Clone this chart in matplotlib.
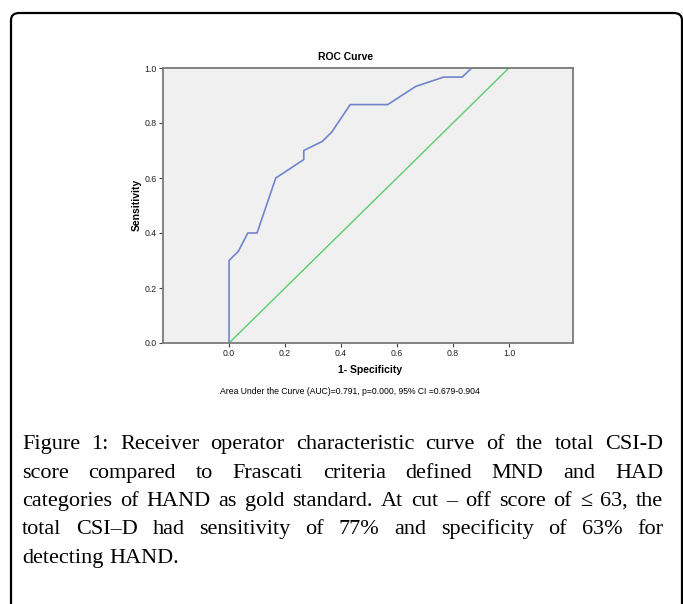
import matplotlib
matplotlib.use("Agg")
import matplotlib.pyplot as plt
from matplotlib.patches import FancyBboxPatch

# ---- data ----
fpr = [0.0, 0.0, 0.033, 0.067, 0.1, 0.167, 0.267, 0.267, 0.333, 0.367, 0.433,
       0.567, 0.667, 0.767, 0.833, 0.867, 1.0]
tpr = [0.0, 0.3, 0.333, 0.4, 0.4, 0.6, 0.667, 0.7, 0.733, 0.767, 0.867,
       0.867, 0.933, 0.967, 0.967, 1.0, 1.0]
ref_x = [0.0, 1.0]
ref_y = [0.0, 1.0]
x_ticks = [0.0, 0.2, 0.4, 0.6, 0.8, 1.0]
y_ticks = [0.0, 0.2, 0.4, 0.6, 0.8, 1.0]
title = "ROC Curve"
xlabel = "1- Specificity"
ylabel = "Sensitivity"
note = "Area Under the Curve (AUC)=0.791, p=0.000, 95% CI =0.679-0.904"
caption_lines = [
    "Figure 1: Receiver operator characteristic curve of the total CSI-D",
    "score compared to Frascati criteria defined MND and HAD",
    "categories of HAND as gold standard. At cut \u2013 off score of \u2264 63, the",
    "total CSI\u2013D had sensitivity of 77% and specificity of 63% for",
    "detecting HAND.",
]

W, H = 683, 604
fig = plt.figure(figsize=(W / 100, H / 100), dpi=100)
fig.patch.set_facecolor("white")

# outer rounded frame (clipped by the figure at right/bottom)
frame = FancyBboxPatch((11 / W, -0.2), (682 - 11) / W, (1 - 13 / H) + 0.2,
                       boxstyle="round,pad=0,rounding_size=0.012",
                       transform=fig.transFigure, fill=False,
                       edgecolor="black", linewidth=1.6)
fig.patches.append(frame)

ax = fig.add_axes([163 / W, 1 - 343 / H, (573 - 163) / W, (343 - 68) / H])
ax.set_facecolor("#f0f0f0")
ax.plot(fpr, tpr, color="#7084cc", lw=1.2)
ax.plot(ref_x, ref_y, color="#5ccc6a", lw=1.0)
ax.set_xlim(-0.236, 1.229)
ax.set_ylim(0, 1.0)
ax.set_xticks(x_ticks)
ax.set_yticks(y_ticks)
ax.set_xticklabels([f"{v:.1f}" for v in x_ticks])
ax.set_yticklabels([f"{v:.1f}" for v in y_ticks])
ax.tick_params(labelsize=6.3, length=3, width=0.8, color="#444444", pad=1.5,
               labelcolor="#222222")
for lbl in ax.get_xticklabels() + ax.get_yticklabels():
    lbl.set_family("Liberation Sans")
for s in ax.spines.values():
    s.set_color("#7a7a7a")
    s.set_linewidth(1.3)

fig.text(346 / W, 1 - 57 / H, title, ha="center", va="center",
         fontsize=7.5, fontweight="bold", family="Liberation Sans")
fig.text(370 / W, 1 - 370 / H, xlabel, ha="center", va="center",
         fontsize=7.5, fontweight="bold", family="Liberation Sans")
fig.text(137 / W, 1 - 205 / H, ylabel, ha="center", va="center", rotation=90,
         fontsize=7.5, fontweight="bold", family="Liberation Sans")
fig.text(350 / W, 1 - 392 / H, note, ha="center", va="center",
         fontsize=6.2, family="Liberation Sans")

# justified caption, one text per word on a shared integer-pixel baseline
left_px, right_px = 22, 663
y0, dy = 449, 28.5
fs = 16
fam = ["Liberation Serif", "DejaVu Serif"]
fig.canvas.draw()
renderer = fig.canvas.get_renderer()


def tw(s):
    t = fig.text(0, 0.5, s, fontsize=fs, family=fam)
    w = t.get_window_extent(renderer).width
    t.remove()
    return w


space_w = tw("n n") - tw("nn")
target = right_px - left_px
for i, line in enumerate(caption_lines):
    ypx = round(y0 + i * dy)
    y = (H - ypx) / H
    words = line.split(" ")
    widths = [tw(w) for w in words]
    if i == len(caption_lines) - 1:
        gap = space_w
    else:
        gap = (target - sum(widths)) / (len(words) - 1)
    x = left_px
    for w, wd in zip(words, widths):
        fig.text(x / W, y, w, ha="left", va="baseline", fontsize=fs,
                 family=fam)
        x += wd + gap

fig.savefig("out.png", dpi=100)
